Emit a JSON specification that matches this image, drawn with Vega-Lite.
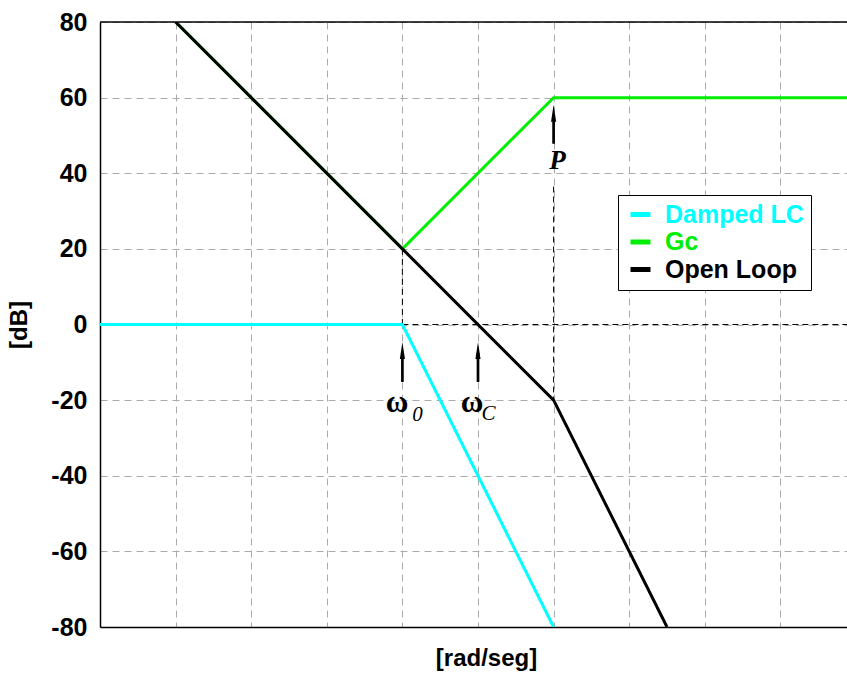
{
  "$schema": "https://vega.github.io/schema/vega-lite/v6.json",
  "width": 747,
  "height": 605,
  "autosize": {"type": "none"},
  "padding": {"left": 100, "top": 22, "right": 0, "bottom": 46},
  "background": "white",
  "config": {
    "view": {"stroke": null},
    "font": "Liberation Sans"
  },
  "datasets": {
    "lines": [
      {"x": 0, "y": 0, "s": "Damped LC", "i": 0},
      {"x": 4, "y": 0, "s": "Damped LC", "i": 1},
      {"x": 6, "y": -80, "s": "Damped LC", "i": 2},
      {"x": 1, "y": 80, "s": "Gc", "i": 0},
      {"x": 4, "y": 20, "s": "Gc", "i": 1},
      {"x": 6, "y": 60, "s": "Gc", "i": 2},
      {"x": 9.881, "y": 60, "s": "Gc", "i": 3},
      {"x": 1, "y": 80, "s": "Open Loop", "i": 0},
      {"x": 6, "y": -20, "s": "Open Loop", "i": 1},
      {"x": 7.5, "y": -80, "s": "Open Loop", "i": 2}
    ],
    "frame": [
      {"x": 0, "y": 80, "x2": 9.881, "y2": 80}
    ],
    "guides": [
      {"x": 4, "y": 20, "x2": 4, "y2": 0},
      {"x": 4, "y": 0, "x2": 9.881, "y2": 0},
      {"x": 6, "y": 36.5, "x2": 6, "y2": -20}
    ],
    "shafts": [
      {"x": 4, "y": -15.2, "x2": 4, "y2": -7.5},
      {"x": 5, "y": -15.2, "x2": 5, "y2": -7.5},
      {"x": 6, "y": 47.8, "x2": 6, "y2": 55.5}
    ],
    "heads": [
      {"x": 4, "y": -6.9},
      {"x": 5, "y": -6.9},
      {"x": 6, "y": 55.9}
    ],
    "omega": [
      {"x": 3.929, "y": -23.2, "t": "ω"},
      {"x": 4.921, "y": -23.2, "t": "ω"}
    ],
    "subs": [
      {"x": 4.2, "y": -25.6, "t": "0"},
      {"x": 5.14, "y": -25.2, "t": "C"}
    ],
    "poles": [
      {"x": 6.05, "y": 41.2, "t": "P"}
    ]
  },
  "encoding": {
    "x": {
      "field": "x",
      "type": "quantitative",
      "scale": {"domain": [0, 9.881], "nice": false, "zero": false},
      "axis": {
        "values": [1, 2, 3, 4, 5, 6, 7, 8, 9],
        "labels": false,
        "ticks": false,
        "grid": true,
        "gridColor": "#aaaaaa",
        "gridDash": [7, 5],
        "gridWidth": 1,
        "domainColor": "black",
        "domainWidth": 1.5,
        "title": "[rad/seg]",
        "titleFont": "Liberation Sans",
        "titleFontSize": 24,
        "titleFontWeight": "bold",
        "titleColor": "black",
        "titleX": 386,
        "titleY": 38,
        "titleBaseline": "alphabetic"
      }
    },
    "y": {
      "field": "y",
      "type": "quantitative",
      "scale": {"domain": [-80, 80], "nice": false, "zero": false},
      "axis": {
        "values": [-80, -60, -40, -20, 0, 20, 40, 60, 80],
        "labelExpr": "'' + datum.value",
        "ticks": false,
        "grid": true,
        "gridColor": "#aaaaaa",
        "gridDash": [7, 5],
        "gridWidth": 1,
        "domainColor": "black",
        "domainWidth": 1.5,
        "labelFont": "Liberation Sans",
        "labelFontSize": 25,
        "labelFontWeight": "bold",
        "labelColor": "black",
        "labelPadding": 13,
        "title": "[dB]",
        "titleFont": "Liberation Sans",
        "titleFontSize": 24,
        "titleFontWeight": "bold",
        "titleColor": "black",
        "titleX": -81,
        "titleY": 302.5,
        "titleBaseline": "middle",
        "titleAlign": "center"
      }
    }
  },
  "layer": [
    {
      "data": {"name": "frame"},
      "mark": {"type": "rule", "color": "black", "strokeWidth": 1.5},
      "encoding": {"x2": {"field": "x2"}, "y2": {"field": "y2"}}
    },
    {
      "data": {"name": "guides"},
      "mark": {"type": "rule", "color": "black", "strokeWidth": 1, "strokeDash": [6, 4]},
      "encoding": {"x2": {"field": "x2"}, "y2": {"field": "y2"}}
    },
    {
      "data": {"name": "lines"},
      "mark": {"type": "line", "strokeWidth": 3, "clip": true},
      "encoding": {
        "order": {"field": "i", "type": "quantitative"},
        "color": {
          "field": "s",
          "type": "nominal",
          "scale": {
            "domain": ["Damped LC", "Gc", "Open Loop"],
            "range": ["#00ffff", "#00ee00", "#000000"]
          },
          "legend": {
            "orient": "none",
            "legendX": 518,
            "legendY": 173,
            "title": null,
            "symbolType": "stroke",
            "symbolSize": 400,
            "symbolStrokeWidth": 5,
            "symbolOffset": 3,
            "labelFont": "Liberation Sans",
            "labelFontSize": 25,
            "labelFontWeight": "bold",
            "labelOffset": 12,
            "labelLimit": 0,
            "padding": 7,
            "rowPadding": 1.5,
            "strokeColor": "black",
            "fillColor": "white",
            "cornerRadius": 0,
            "encode": {
              "labels": {"update": {"fill": {"scale": "color", "field": "value"}}}
            }
          }
        }
      }
    },
    {
      "data": {"name": "shafts"},
      "mark": {"type": "rule", "color": "black", "strokeWidth": 2.7},
      "encoding": {"x2": {"field": "x2"}, "y2": {"field": "y2"}}
    },
    {
      "data": {"name": "heads"},
      "mark": {
        "type": "point",
        "shape": "M0,-1L0.3,1L-0.3,1Z",
        "size": 289,
        "filled": true,
        "color": "black",
        "opacity": 1,
        "strokeWidth": 0
      }
    },
    {
      "data": {"name": "omega"},
      "mark": {"type": "text", "font": "Liberation Serif", "fontSize": 31, "fontWeight": "bold", "align": "center", "baseline": "alphabetic", "color": "black"},
      "encoding": {"text": {"field": "t"}}
    },
    {
      "data": {"name": "subs"},
      "mark": {"type": "text", "font": "Liberation Serif", "fontSize": 21, "fontStyle": "italic", "align": "center", "baseline": "alphabetic", "color": "black"},
      "encoding": {"text": {"field": "t"}}
    },
    {
      "data": {"name": "poles"},
      "mark": {"type": "text", "font": "Liberation Serif", "fontSize": 27, "fontStyle": "italic", "fontWeight": "bold", "align": "center", "baseline": "alphabetic", "color": "black"},
      "encoding": {"text": {"field": "t"}}
    }
  ]
}
